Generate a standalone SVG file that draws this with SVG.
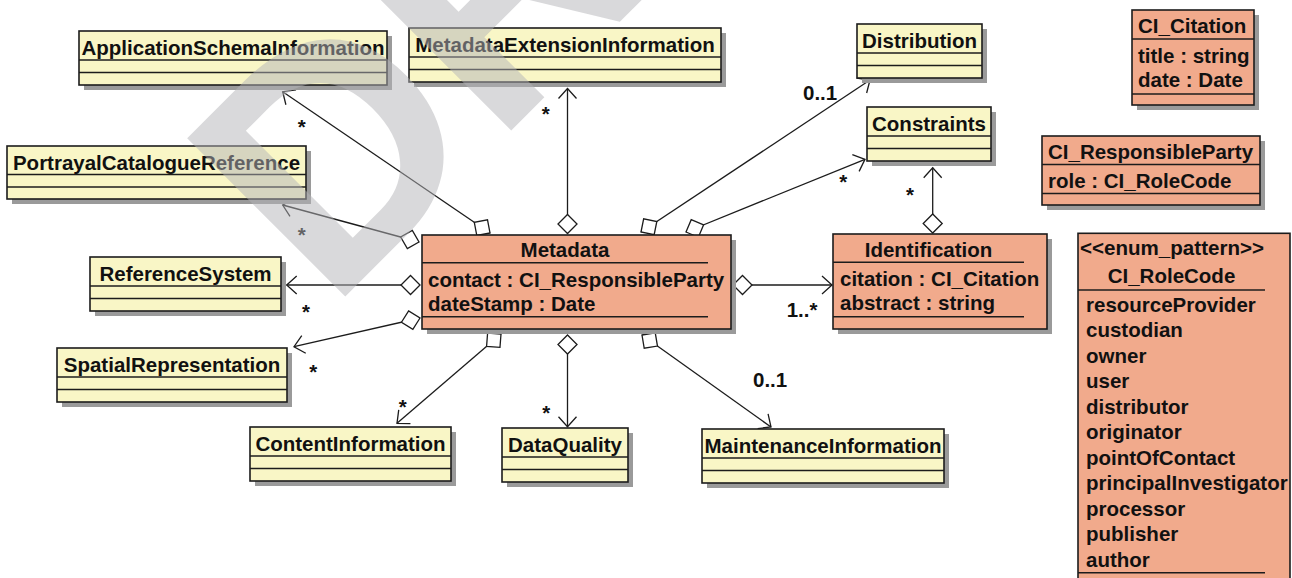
<svg xmlns="http://www.w3.org/2000/svg" width="1292" height="578" viewBox="0 0 1292 578">
<style>
  text{font-family:"Liberation Sans",Arial,Helvetica,sans-serif;font-weight:bold;font-size:20.5px;fill:#111}
  .mid{text-anchor:middle}
  .yl{fill:#F9F6C6;stroke:#1c1c1c;stroke-width:1.6}
  .sl{fill:#F1AA8C;stroke:#1c1c1c;stroke-width:1.6}
  .sh{fill:#9a9a9a}
  .sep{stroke:#1c1c1c;stroke-width:1.6}
  .assoc{stroke:#1c1c1c;stroke-width:1.3;fill:none;marker-start:url(#agg);marker-end:url(#open)}
  .wm{font-family:"Liberation Sans",Arial,sans-serif;font-weight:bold;font-size:325px;fill:#b4b4b8;fill-opacity:0.5}
</style>
<defs>
  <!-- hollow aggregation diamond, drawn from the owning class outward -->
  <marker id="agg" markerUnits="userSpaceOnUse" orient="auto" refX="0" refY="0" markerWidth="40" markerHeight="40" overflow="visible">
    <path d="M0,0 L9.5,-9.5 L19,0 L9.5,9.5 Z" fill="#fff" stroke="#1c1c1c" stroke-width="1.3"/>
  </marker>
  <!-- open navigability arrowhead -->
  <marker id="open" markerUnits="userSpaceOnUse" orient="auto" refX="0" refY="0" markerWidth="40" markerHeight="40" overflow="visible">
    <path d="M-10,-9 L0,0 L-10,9" fill="none" stroke="#1c1c1c" stroke-width="1.3"/>
  </marker>
</defs>

<rect width="1292" height="578" fill="#fff"/>

<!-- association lines -->
<g id="connectors">
  <line class="assoc" x1="490" y1="233" x2="282.7" y2="91.7"/>
  <line class="assoc" x1="419" y1="242" x2="282.7" y2="205"/>
  <line class="assoc" x1="567.5" y1="233.5" x2="567.5" y2="88.5"/>
  <line class="assoc" x1="641" y1="232" x2="870" y2="80"/>
  <line class="assoc" x1="686" y1="232" x2="865" y2="159.3"/>
  <line class="assoc" x1="932.7" y1="233" x2="932.7" y2="167.7"/>
  <line class="assoc" x1="420" y1="285" x2="286.7" y2="285"/>
  <line class="assoc" x1="420" y1="318" x2="294" y2="346.7"/>
  <line class="assoc" x1="733" y1="285" x2="832" y2="285"/>
  <line class="assoc" x1="501" y1="334" x2="397" y2="423.3"/>
  <line class="assoc" x1="567.5" y1="335" x2="567.5" y2="426.7"/>
  <line class="assoc" x1="642" y1="335" x2="771" y2="427"/>

  <!-- multiplicities -->
  <text class="mid" x="301.7" y="133.6">*</text>
  <text class="mid" x="301.7" y="242">*</text>
  <text class="mid" x="545.7" y="121">*</text>
  <text x="803" y="100">0..1</text>
  <text class="mid" x="843.3" y="188.6">*</text>
  <text class="mid" x="910" y="202">*</text>
  <text class="mid" x="306" y="318.6">*</text>
  <text class="mid" x="313.3" y="378.6">*</text>
  <text x="786.7" y="316.7">1..*</text>
  <text class="mid" x="402.8" y="413.6">*</text>
  <text class="mid" x="546.3" y="420">*</text>
  <text x="753" y="386.7">0..1</text>
</g>

<g id="ApplicationSchemaInformation">
  <rect class="sh" x="84" y="36" width="308" height="54"/>
  <rect class="yl" x="79" y="31" width="308" height="54"/>
  <line class="sep" x1="79" y1="60" x2="387" y2="60"/>
  <line class="sep" x1="79" y1="72.5" x2="387" y2="72.5"/>
  <text class="mid" x="233" y="55">ApplicationSchemaInformation</text>
</g>

<g id="PortrayalCatalogueReference">
  <rect class="sh" x="12" y="151" width="299" height="53"/>
  <rect class="yl" x="7" y="146" width="299" height="53"/>
  <line class="sep" x1="7" y1="174.5" x2="306" y2="174.5"/>
  <line class="sep" x1="7" y1="187" x2="306" y2="187"/>
  <text class="mid" x="156.5" y="169.5">PortrayalCatalogueReference</text>
</g>

<g id="MetadataExtensionInformation">
  <rect class="sh" x="414" y="33" width="312" height="54"/>
  <rect class="yl" x="409" y="28" width="312" height="54"/>
  <line class="sep" x1="409" y1="57" x2="721" y2="57"/>
  <line class="sep" x1="409" y1="69.5" x2="721" y2="69.5"/>
  <text class="mid" x="565" y="52">MetadataExtensionInformation</text>
</g>

<g id="Distribution">
  <rect class="sh" x="862" y="29" width="125" height="54"/>
  <rect class="yl" x="857" y="24" width="125" height="54"/>
  <line class="sep" x1="857" y1="53" x2="982" y2="53"/>
  <line class="sep" x1="857" y1="65.5" x2="982" y2="65.5"/>
  <text class="mid" x="919.5" y="48">Distribution</text>
</g>

<g id="Constraints">
  <rect class="sh" x="872" y="112" width="124" height="54"/>
  <rect class="yl" x="867" y="107" width="124" height="54"/>
  <line class="sep" x1="867" y1="136" x2="991" y2="136"/>
  <line class="sep" x1="867" y1="148.5" x2="991" y2="148.5"/>
  <text class="mid" x="929" y="131">Constraints</text>
</g>

<g id="CI_Citation">
  <rect class="sh" x="1137" y="15" width="122" height="95"/>
  <rect class="sl" x="1132" y="10" width="122" height="95"/>
  <line class="sep" x1="1132" y1="39" x2="1254" y2="39"/>
  <line class="sep" x1="1132" y1="94" x2="1254" y2="94"/>
  <text x="1138" y="33">CI_Citation</text>
  <text x="1138" y="63">title : string</text>
  <text x="1138" y="87.3">date : Date</text>
</g>

<g id="CI_ResponsibleParty">
  <rect class="sh" x="1047" y="141" width="218" height="69"/>
  <rect class="sl" x="1042" y="136" width="218" height="69"/>
  <line class="sep" x1="1042" y1="164.5" x2="1260" y2="164.5"/>
  <line class="sep" x1="1042" y1="193.5" x2="1260" y2="193.5"/>
  <text x="1048" y="159.3">CI_ResponsibleParty</text>
  <text x="1048" y="187.7">role : CI_RoleCode</text>
</g>

<g id="ReferenceSystem">
  <rect class="sh" x="95" y="262" width="191" height="54"/>
  <rect class="yl" x="90" y="257" width="191" height="54"/>
  <line class="sep" x1="90" y1="286" x2="281" y2="286"/>
  <line class="sep" x1="90" y1="298.5" x2="281" y2="298.5"/>
  <text class="mid" x="185.5" y="281">ReferenceSystem</text>
</g>

<g id="SpatialRepresentation">
  <rect class="sh" x="62" y="353" width="230" height="54"/>
  <rect class="yl" x="57" y="348" width="230" height="54"/>
  <line class="sep" x1="57" y1="377" x2="287" y2="377"/>
  <line class="sep" x1="57" y1="389.5" x2="287" y2="389.5"/>
  <text class="mid" x="172" y="372">SpatialRepresentation</text>
</g>

<g id="Metadata">
  <rect class="sh" x="427" y="240" width="309" height="94"/>
  <rect class="sl" x="422" y="235" width="309" height="94"/>
  <line class="sep" x1="422" y1="262.7" x2="708" y2="262.7"/>
  <line class="sep" x1="422" y1="316.7" x2="708" y2="316.7"/>
  <text class="mid" x="565" y="257.3">Metadata</text>
  <text x="428" y="286.7">contact : CI_ResponsibleParty</text>
  <text x="428" y="310.7">dateStamp : Date</text>
</g>

<g id="Identification">
  <rect class="sh" x="838" y="239" width="214" height="95"/>
  <rect class="sl" x="833" y="234" width="214" height="95"/>
  <line class="sep" x1="833" y1="262.3" x2="1024" y2="262.3"/>
  <line class="sep" x1="833" y1="316.7" x2="1024" y2="316.7"/>
  <text class="mid" x="928.5" y="256.7">Identification</text>
  <text x="840" y="285.7">citation : CI_Citation</text>
  <text x="840" y="310">abstract : string</text>
</g>

<g id="CI_RoleCode">
  <rect class="sl" x="1078" y="233.3" width="212" height="360"/>
  <line class="sep" x1="1078" y1="290" x2="1265" y2="290"/>
  <line class="sep" x1="1078" y1="572.7" x2="1265" y2="572.7"/>
  <text x="1080" y="255" textLength="184" lengthAdjust="spacingAndGlyphs">&lt;&lt;enum_pattern&gt;&gt;</text>
  <text class="mid" x="1171.5" y="283.3">CI_RoleCode</text>
  <text x="1086" y="311.7">resourceProvider</text>
  <text x="1086" y="337.2">custodian</text>
  <text x="1086" y="362.7">owner</text>
  <text x="1086" y="388.2">user</text>
  <text x="1086" y="413.7">distributor</text>
  <text x="1086" y="439.2">originator</text>
  <text x="1086" y="464.7">pointOfContact</text>
  <text x="1086" y="490.2">principalInvestigator</text>
  <text x="1086" y="515.7">processor</text>
  <text x="1086" y="541.2">publisher</text>
  <text x="1086" y="566.7">author</text>
</g>

<g id="ContentInformation">
  <rect class="sh" x="255" y="432" width="201" height="54"/>
  <rect class="yl" x="250" y="427" width="201" height="54"/>
  <line class="sep" x1="250" y1="456" x2="451" y2="456"/>
  <line class="sep" x1="250" y1="468.5" x2="451" y2="468.5"/>
  <text class="mid" x="350.5" y="451">ContentInformation</text>
</g>

<g id="DataQuality">
  <rect class="sh" x="507" y="433" width="126" height="54"/>
  <rect class="yl" x="502" y="428" width="126" height="54"/>
  <line class="sep" x1="502" y1="457" x2="628" y2="457"/>
  <line class="sep" x1="502" y1="469.5" x2="628" y2="469.5"/>
  <text class="mid" x="565" y="452">DataQuality</text>
</g>

<g id="MaintenanceInformation">
  <rect class="sh" x="707" y="434" width="242" height="54"/>
  <rect class="yl" x="702" y="429" width="242" height="54"/>
  <line class="sep" x1="702" y1="458" x2="944" y2="458"/>
  <line class="sep" x1="702" y1="470.5" x2="944" y2="470.5"/>
  <text class="mid" x="823" y="453">MaintenanceInformation</text>
</g>

<!-- translucent diagonal watermark laid over the drawing -->
<g id="watermark">
  <text class="wm" transform="translate(329.9,311.8) rotate(-45)">DR</text>
</g>
</svg>
